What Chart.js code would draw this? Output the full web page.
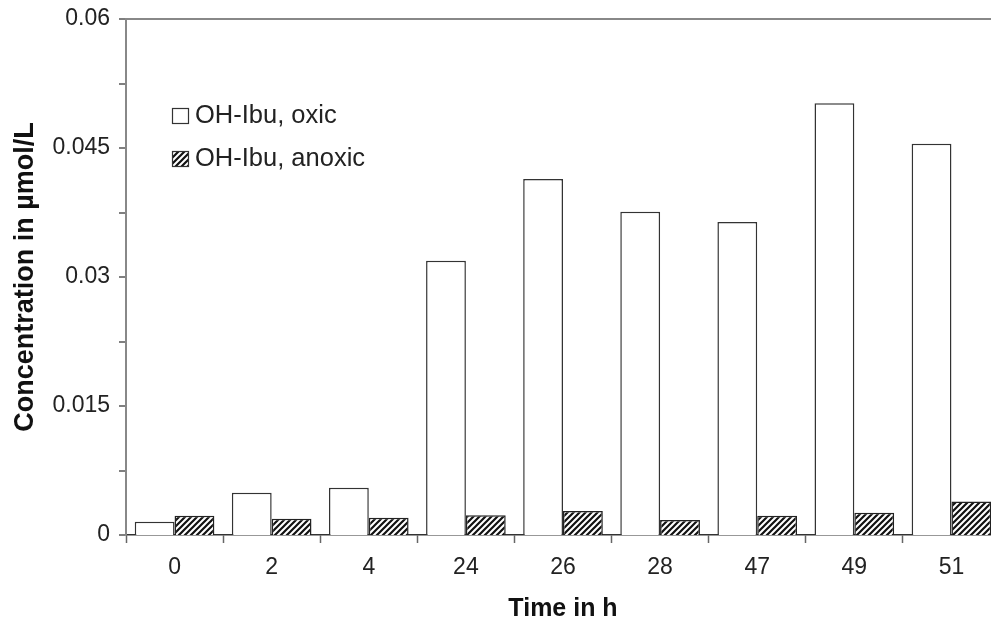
<!DOCTYPE html>
<html>
<head>
<meta charset="utf-8">
<script src="https://cdn.jsdelivr.net/npm/chart.js@4"></script>
<style>
  html, body { margin: 0; padding: 0; background: #fff; overflow: hidden; }
  #wrap { width: 1012px; height: 622px; }
</style>
</head>
<body>
<div id="wrap"><canvas id="barChart" width="1012" height="622"></canvas></div>
<script>
// sampling times (h)
const timeLabels = ['0', '2', '4', '24', '26', '28', '47', '49', '51'];

// concentrations in µmol/L
const oxicValues   = [0.00155, 0.0049, 0.0055, 0.0319, 0.0414, 0.0376, 0.0364, 0.0502, 0.0455];
const anoxicValues = [0.00225, 0.0019, 0.0020, 0.0023, 0.0028, 0.00175, 0.00225, 0.0026, 0.0039];

// y ticks every 0.0075, only every second one labelled
const yTickLabels = ['0', '', '0.015', '', '0.03', '', '0.045', '', '0.06'];

const seriesNames = ['OH-Ibu, oxic', 'OH-Ibu, anoxic'];

const FONT = "'Liberation Sans', Arial, sans-serif";

// ---- hatch pattern for the anoxic bars ----
function makeHatch() {
    const s = 6;
    const c = document.createElement('canvas');
    c.width = s; c.height = s;
    const g = c.getContext('2d');
    g.fillStyle = '#fff';
    g.fillRect(0, 0, s, s);
    g.strokeStyle = '#111';
    g.lineWidth = 2.2;
    g.beginPath();
    g.moveTo(0, s); g.lineTo(s, 0);
    g.moveTo(-s / 2, s / 2); g.lineTo(s / 2, -s / 2);
    g.moveTo(s / 2, s * 1.5); g.lineTo(s * 1.5, s / 2);
    g.stroke();
    return g.createPattern(c, 'repeat');
}
const hatch = makeHatch();

// legend drawn inside the plot, like the original
const insideLegend = {
    id: 'insideLegend',
    afterDraw(chart) {
        const ctx = chart.ctx;
        const items = [
            { y: 108, fill: '#fff', text: seriesNames[0], ty: 115.5 },
            { y: 151, fill: hatch, text: seriesNames[1], ty: 158.5 }
        ];
        ctx.save();
        items.forEach(it => {
            ctx.fillStyle = it.fill;
            ctx.fillRect(172, it.y, 17, 16);
            ctx.strokeStyle = '#333';
            ctx.lineWidth = 1.2;
            ctx.strokeRect(172.5, it.y + 0.5, 16, 15);
            ctx.fillStyle = '#222';
            ctx.font = '25.5px ' + FONT;
            ctx.textBaseline = 'middle';
            ctx.textAlign = 'left';
            ctx.fillText(it.text, 195, it.ty);
        });
        ctx.restore();
    }
};

const ctx = document.getElementById('barChart').getContext('2d');

new Chart(ctx, {
    type: 'bar',
    data: {
        labels: timeLabels,
        datasets: [
            {
                label: seriesNames[0],
                data: oxicValues,
                backgroundColor: '#fff',
                borderColor: '#333',
                borderWidth: 1.5
            },
            {
                label: seriesNames[1],
                data: anoxicValues,
                backgroundColor: hatch,
                borderColor: '#222',
                borderWidth: 1.5
            }
        ]
    },
    options: {
        responsive: false,
        animation: false,
        devicePixelRatio: 1,
        categoryPercentage: 0.82,
        barPercentage: 1.0,
        layout: { padding: { top: 19, right: 12, left: 0, bottom: 0 } },
        plugins: {
            legend: { display: false },
            tooltip: { enabled: false }
        },
        scales: {
            x: {
                afterFit(scale) { scale.height = 87; },
                border: { color: '#333', width: 1.5 },
                grid: {
                    drawOnChartArea: false,
                    drawTicks: true,
                    tickLength: 8,
                    tickColor: '#666',
                    tickWidth: 1.5
                },
                ticks: {
                    color: '#222',
                    padding: 11,
                    font: { family: FONT, size: 23 }
                },
                title: {
                    display: true,
                    text: 'Time in h',
                    color: '#111',
                    font: { family: FONT, size: 25, weight: 'bold', lineHeight: 1 },
                    padding: { top: 0, bottom: 0 }
                }
            },
            y: {
                min: 0,
                max: 0.06,
                afterFit(scale) {
                    scale.width = 126;
                    scale.paddingTop = 0;
                    scale.paddingBottom = 0;
                },
                border: { color: '#888', width: 2 },
                grid: {
                    drawTicks: true,
                    tickLength: 7,
                    tickColor: '#555',
                    tickWidth: 1.5,
                    color: c => (c.tick && c.tick.value > 0.0599) ? '#888' : 'rgba(0,0,0,0)',
                    lineWidth: c => (c.tick && c.tick.value > 0.0599) ? 2 : 0
                },
                ticks: {
                    stepSize: 0.0075,
                    color: '#222',
                    padding: 9,
                    font: { family: FONT, size: 23 },
                    callback: (v, i) => yTickLabels[i]
                },
                title: {
                    display: true,
                    text: 'Concentration in µmol/L',
                    color: '#111',
                    font: { family: FONT, size: 27, weight: 'bold', lineHeight: 1 },
                    padding: { top: 12, bottom: 0 }
                }
            }
        }
    },
    plugins: [insideLegend]
});
</script>
</body>
</html>
